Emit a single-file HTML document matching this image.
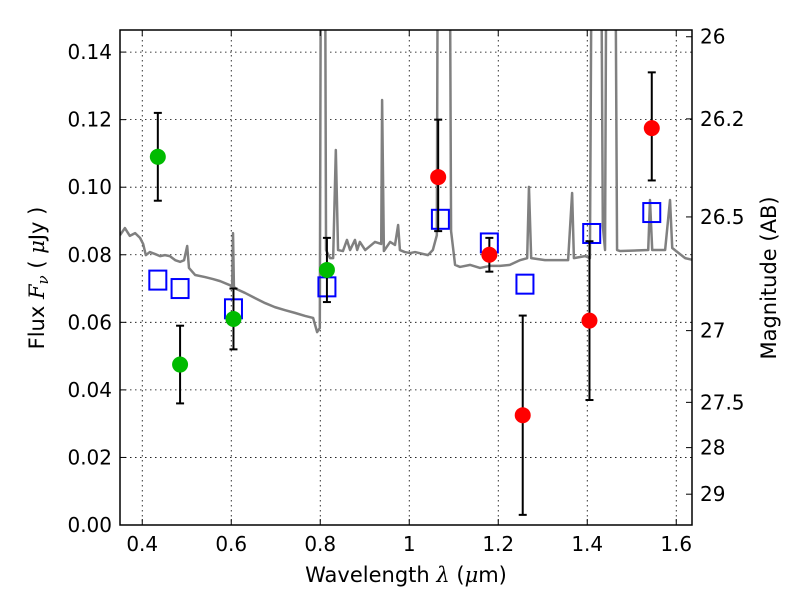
<!DOCTYPE html>
<html><head><meta charset="utf-8"><style>
html,body{margin:0;padding:0;background:#fff;}
svg text{font-family:"DejaVu Sans","Liberation Sans",sans-serif;fill:#000;}
</style></head><body>
<svg id="chart" width="800" height="600" viewBox="0 0 800 600" xmlns="http://www.w3.org/2000/svg">
<defs><clipPath id="clip"><rect x="120" y="30" width="572" height="495"/></clipPath></defs>
<rect x="0" y="0" width="800" height="600" fill="#fff"/>
<g id="grid"></g>
<g id="spec" clip-path="url(#clip)"></g>
<g id="marks" clip-path="url(#clip)"></g>
<rect x="120" y="30" width="572" height="495" fill="none" stroke="#000" stroke-width="1.5"/>
<g id="axes"></g>
<text x="406" y="582" font-size="21" text-anchor="middle">Wavelength  <tspan font-style="italic" font-family="DejaVu Serif, serif">λ</tspan> (<tspan font-style="italic" font-family="DejaVu Serif, serif">μ</tspan>m)</text>
<text transform="translate(44,278) rotate(-90)" font-size="21" text-anchor="middle">Flux  <tspan font-style="italic" font-family="DejaVu Serif, serif">F<tspan font-size="15" dy="4">ν</tspan></tspan><tspan dy="-4">  ( </tspan><tspan font-style="italic" font-family="DejaVu Serif, serif">μ</tspan>Jy )</text>
<text transform="translate(776,278) rotate(-90)" font-size="21" text-anchor="middle">Magnitude (AB)</text>
</svg>
<script>
const xTicks=[0.4,0.6,0.8,1.0,1.2,1.4,1.6];
const xTickLabels=["0.4","0.6","0.8","1","1.2","1.4","1.6"];
const yTicks=[0,0.02,0.04,0.06,0.08,0.10,0.12,0.14];
const yTickLabels=["0.00","0.02","0.04","0.06","0.08","0.10","0.12","0.14"];
const magTicks=[26,26.2,26.5,27,27.5,28,29];
const magTickLabels=["26","26.2","26.5","27","27.5","28","29"];
const specWave=[0.350,0.361,0.372,0.384,0.395,0.402,0.408,0.417,0.429,0.440,0.451,0.462,0.474,0.485,0.494,0.501,0.505,0.519,0.541,0.559,0.575,0.597,0.602,0.604,0.606,0.611,0.631,0.653,0.676,0.698,0.721,0.743,0.766,0.784,0.793,0.799,0.804,0.808,0.813,0.822,0.829,0.835,0.840,0.851,0.860,0.867,0.878,0.883,0.889,0.901,0.923,0.937,0.939,0.943,0.957,0.968,0.975,0.979,0.990,1.002,1.013,1.042,1.053,1.062,1.067,1.087,1.094,1.103,1.114,1.137,1.159,1.181,1.204,1.226,1.249,1.265,1.269,1.274,1.305,1.339,1.357,1.366,1.370,1.395,1.406,1.415,1.426,1.435,1.440,1.447,1.458,1.467,1.474,1.537,1.541,1.546,1.575,1.586,1.591,1.620,1.636];
const specFlux=[0.0858,0.0879,0.0856,0.0864,0.0850,0.0832,0.0799,0.0808,0.0802,0.0796,0.0799,0.0796,0.0784,0.0779,0.0784,0.0826,0.0761,0.0740,0.0734,0.0728,0.0722,0.0710,0.0705,0.0864,0.0705,0.0699,0.0687,0.0672,0.0657,0.0645,0.0636,0.0628,0.0619,0.0613,0.0571,0.0583,0.3,0.3,0.0814,0.0790,0.0790,0.111,0.0814,0.0811,0.0844,0.0814,0.0844,0.0814,0.0838,0.0814,0.0838,0.0832,0.1258,0.0811,0.0838,0.0829,0.0888,0.0814,0.0808,0.0805,0.0808,0.0799,0.0814,0.0858,0.3,0.3,0.0870,0.0770,0.0764,0.0770,0.0761,0.0767,0.0767,0.0770,0.0784,0.0790,0.1001,0.0790,0.0784,0.0784,0.0784,0.0983,0.0790,0.0796,0.0790,0.3,0.3,0.0885,0.0814,0.3,0.3,0.0814,0.0811,0.0814,0.0962,0.0814,0.0814,0.0962,0.0820,0.0790,0.0785];
const greenWave=[0.435,0.485,0.605,0.815];
const greenFlux=[0.109,0.0475,0.061,0.0755];
const greenLo=[0.096,0.036,0.052,0.066];
const greenHi=[0.122,0.059,0.070,0.085];
const redWave=[1.065,1.18,1.255,1.405,1.545];
const redFlux=[0.103,0.080,0.0325,0.0605,0.1175];
const redLo=[0.087,0.075,0.003,0.037,0.102];
const redHi=[0.120,0.085,0.062,0.084,0.134];
const modelWave=[0.435,0.485,0.605,0.815,1.07,1.18,1.26,1.41,1.545];
const modelFlux=[0.0725,0.070,0.064,0.0705,0.0905,0.0835,0.0713,0.0863,0.0925];

const NS="http://www.w3.org/2000/svg";
const X0=120,X1=692,XMIN=0.35,XMAX=1.6354;
const Y0=525,Y1=30,YMIN=0,YMAX=0.14654;
function sx(v){return X0+(v-XMIN)/(XMAX-XMIN)*(X1-X0);}
function sy(v){return Y0-(v-YMIN)/(YMAX-YMIN)*(Y0-Y1);}
function magToFlux(m){return Math.pow(10,(23.9-m)/2.5);}
function mk(tag,attrs,parent){const e=document.createElementNS(NS,tag);for(const k in attrs)e.setAttribute(k,attrs[k]);parent.appendChild(e);return e;}
const grid=document.getElementById('grid'),axes=document.getElementById('axes');
xTicks.forEach((t,i)=>{
  const x=sx(t);
  const g=mk('line',{x1:x,x2:x,y1:Y1,y2:Y0,stroke:'#000','stroke-width':0.8,'stroke-dasharray':'1.5,3.5'},grid);
  
  
  mk('line',{x1:x,x2:x,y1:Y0,y2:Y0-6,stroke:'#000'},axes);
  mk('line',{x1:x,x2:x,y1:Y1,y2:Y1+6,stroke:'#000'},axes);
  const tx=mk('text',{x:x,y:Y0+26,'font-size':20,'text-anchor':'middle'},axes);
  tx.textContent=xTickLabels[i];
  
  
});
yTicks.forEach((t,i)=>{
  const y=sy(t);
  const g=mk('line',{x1:X0,x2:X1,y1:y,y2:y,stroke:'#000','stroke-width':0.8,'stroke-dasharray':'1.5,3.5'},grid);
  
  
  mk('line',{x1:X0,x2:X0+6,y1:y,y2:y,stroke:'#000'},axes);
  const tx=mk('text',{x:X0-8,y:y+7,'font-size':20,'text-anchor':'end'},axes);
  tx.textContent=yTickLabels[i];
  
  
});
magTicks.forEach((m,i)=>{
  const y=sy(magToFlux(m));
  mk('line',{x1:X1,x2:X1-6,y1:y,y2:y,stroke:'#000'},axes);
  const tx=mk('text',{x:X1+8,y:y+7,'font-size':20,'text-anchor':'start'},axes);
  tx.textContent=magTickLabels[i];
  
  
});
const spec=document.getElementById('spec');
const pth=mk('polyline',{points:specWave.map((w,i)=>sx(w)+','+sy(specFlux[i])).join(' '),fill:'none',stroke:'#808080','stroke-width':2.5,'stroke-linejoin':'round'},spec);


const marks=document.getElementById('marks');
modelWave.forEach((w,i)=>{
  const r=mk('rect',{x:sx(w)-8.5,y:sy(modelFlux[i])-9.5,width:17,height:19,fill:'none',stroke:'#0000ff','stroke-width':2},marks);
  
  
});
function pts(wv,fl,lo,hi,col,name){
  wv.forEach((w,i)=>{
    const x=sx(w);
    const e=mk('g',{},marks);
    
    
    mk('line',{x1:x,x2:x,y1:sy(lo[i]),y2:sy(hi[i]),stroke:'#000','stroke-width':2},e);
    mk('line',{x1:x-4,x2:x+4,y1:sy(lo[i]),y2:sy(lo[i]),stroke:'#000','stroke-width':2},e);
    mk('line',{x1:x-4,x2:x+4,y1:sy(hi[i]),y2:sy(hi[i]),stroke:'#000','stroke-width':2},e);
    const c=mk('circle',{cx:x,cy:sy(fl[i]),r:8,fill:col},marks);
    
    
  });
}
pts(greenWave,greenFlux,greenLo,greenHi,'#00bb00','green-band');
pts(redWave,redFlux,redLo,redHi,'#ff0000','red-band');
</script>
</body></html>
